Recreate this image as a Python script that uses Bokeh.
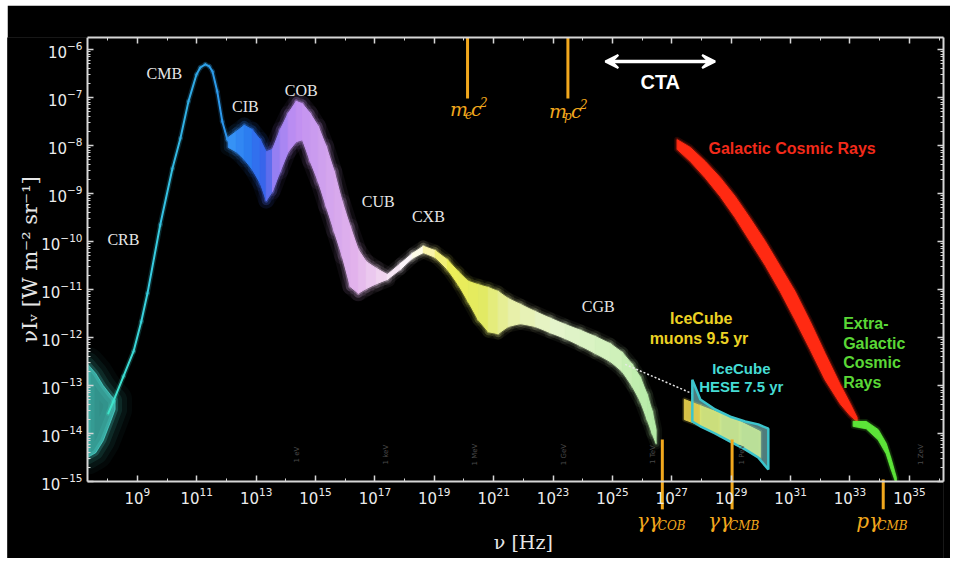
import numpy as np
from bokeh.plotting import figure
from bokeh.layouts import row, column
from bokeh.models import Label, Arrow, VeeHead, FixedTicker, LogAxis, Spacer
from bokeh.embed import file_html
from bokeh.resources import INLINE

# ---------------- data: log10(nu / Hz), log10(nu I_nu / W m^-2 sr^-1) ----------------
CRB_NU = [7.32, 7.60, 7.85, 8.10, 8.25]
CRB_LO = [-14.50, -14.40, -14.15, -13.75, -13.50]
CRB_HI = [-12.55, -12.75, -13.00, -13.20, -13.30]

CMB_NU = [8.02, 8.19, 8.53, 8.87, 9.13, 9.34, 9.77, 10.18, 10.45, 10.72, 10.99, 11.12,
          11.29, 11.42, 11.53, 11.69, 11.86, 12.03, 12.20]
CMB_I = [-13.58, -13.33, -12.81, -12.29, -11.67, -11.08, -9.65, -8.48, -7.85, -7.08, -6.52,
         -6.375, -6.31, -6.35, -6.46, -6.875, -7.50, -7.875, -7.98]

# CIB -> COB -> CUB
MAIN_NU = [12.06, 12.33, 12.60, 12.87, 13.14, 13.34, 13.55, 13.81, 14.08, 14.35, 14.56,
           14.82, 15.09, 15.36, 15.63, 15.90, 16.17, 16.44, 16.71, 17.05, 17.42]
MAIN_HI = [-7.83, -7.71, -7.58, -7.67, -7.88, -8.13, -8.08, -7.67, -7.33, -7.08, -7.13,
           -7.33, -7.60, -8.02, -8.54, -9.17, -9.69, -10.17, -10.42, -10.56, -10.69]
MAIN_LO = [-8.04, -8.13, -8.29, -8.50, -8.79, -9.15, -8.96, -8.54, -8.13, -7.92, -7.88,
           -8.33, -8.75, -9.27, -9.79, -10.31, -10.94, -11.08, -10.98, -10.88, -10.79]

# CXB -> CGB
XG_NU = [17.42, 17.86, 18.26, 18.63, 19.03, 19.44, 19.81, 20.14, 20.48, 20.82, 21.15, 21.49,
         21.90, 22.40, 22.91, 23.41, 23.92, 24.42, 24.93, 25.33, 25.67, 25.94, 26.17, 26.34, 26.47]
XG_HI = [-10.69, -10.46, -10.25, -10.10, -10.19, -10.38, -10.63, -10.83, -10.90, -10.96, -11.04,
         -11.19, -11.31, -11.46, -11.60, -11.73, -11.85, -11.98, -12.13, -12.31, -12.56, -12.83,
         -13.19, -13.54, -13.92]
XG_LO = [-10.79, -10.58, -10.35, -10.23, -10.33, -10.58, -10.90, -11.25, -11.63, -11.88, -11.92,
         -11.77, -11.71, -11.77, -11.90, -12.02, -12.17, -12.33, -12.50, -12.71, -13.02, -13.33,
         -13.71, -14.00, -14.21]

# IceCube HESE 7.5 yr and muons 9.5 yr
HESE_NU = [27.69, 27.96, 28.46, 28.97, 29.47, 29.91, 30.25]
HESE_HI = [-12.88, -13.29, -13.50, -13.65, -13.75, -13.81, -13.90]
HESE_LO = [-13.75, -13.85, -14.00, -14.17, -14.33, -14.50, -14.75]
MU_NU = [27.42, 27.96, 28.63, 29.30, 29.98]
MU_HI = [-13.29, -13.42, -13.58, -13.75, -13.96]
MU_LO = [-13.71, -13.83, -14.04, -14.25, -14.50]

# Galactic / extra-galactic cosmic rays
GCR_NU = [27.18, 27.62, 28.12, 28.63, 29.13, 29.64, 30.15, 30.65, 31.15, 31.66, 32.16, 32.67, 33.01, 33.24]
GCR_HI = [-7.88, -8.04, -8.33, -8.67, -9.06, -9.52, -10.00, -10.52, -11.04, -11.67, -12.33, -12.98, -13.38, -13.67]
GCR_LO = [-8.08, -8.33, -8.67, -9.06, -9.50, -10.00, -10.50, -11.04, -11.63, -12.25, -12.88, -13.38, -13.63, -13.75]
EG_NU = [33.11, 33.55, 33.95, 34.22, 34.39, 34.56]
EG_HI = [-13.75, -13.75, -13.92, -14.21, -14.54, -14.92]
EG_LO = [-13.85, -13.90, -14.13, -14.42, -14.75, -15.05]

# markers
TOP_MARK_NU = [20.12, 23.50]          # m_e c^2, m_p c^2
TOP_MARK_I = [-5.75, -7.02]
BOT_MARK_NU = [26.68, 29.03, 34.12]   # gg_COB, gg_CMB, pg_CMB
BOT_MARK_TOP = [-14.125, -14.125, -14.96]
BOT_MARK_END = -15.58
CTA_NU = [24.76, 28.46]
CTA_I = -6.25
DASH_NU = [25.43, 27.69]
DASH_I = [-12.56, -13.17]
ENERGY_LABELS = ["1 eV", "1 keV", "1 MeV", "1 GeV", "1 TeV", "1 PeV", "1 ZeV"]
ENERGY_NU = [14.38, 17.38, 20.38, 23.38, 26.38, 29.38, 35.38]

X_TICKS = [10.0 ** k for k in range(9, 37, 2)]
Y_TICKS = [10.0 ** k for k in range(-15, -5)]

# ---------------- figure ----------------
AXIS_X = (7.32, 36.15)     # drawn x axis extent (log10)
AXIS_Y = (-15.0, -5.75)    # drawn y axis extent (log10)
W, H = 943, 553
BL, BR, BT, BB = 0, 7, 32, 0
PX_X = 29.69
PX_Y = 48.0
XL = (AXIS_X[0] - 80 / PX_X, AXIS_X[1])
YL = (AXIS_Y[0] - 77 / PX_Y, AXIS_Y[1])

p = figure(width=W, height=H, x_axis_type="log", y_axis_type="log",
           x_range=(10 ** XL[0], 10 ** XL[1]), y_range=(10 ** YL[0], 10 ** YL[1]),
           output_backend="svg", toolbar_location=None,
           background_fill_color="black", border_fill_color="black",
           min_border_left=BL, min_border_right=BR, min_border_top=BT, min_border_bottom=BB,
           outline_line_color=None)
p.grid.visible = False

AX = "#d6d6d6"


def minor_x():
    return [10.0 ** k for k in range(8, 37)]


def minor_y():
    return [m * 10.0 ** k for k in range(-15, -5) for m in range(2, 10)]


def style_axis(ax, labels=True):
    ax.axis_line_color = AX
    ax.axis_line_width = 2
    ax.major_tick_line_color = AX
    ax.minor_tick_line_color = AX
    ax.major_tick_in = 6
    ax.major_tick_out = 0
    ax.minor_tick_in = 3
    ax.minor_tick_out = 0
    ax.major_tick_line_width = 1.5
    if labels:
        ax.major_label_text_color = "#ececec"
        ax.major_label_text_font = "DejaVu Sans"
        ax.major_label_text_font_size = "15px"
        ax.major_label_standoff = 5
    else:
        ax.major_label_text_font_size = "1px"
        ax.major_label_text_alpha = 0.0
        ax.major_label_standoff = 0


XB = (10 ** AXIS_X[0], 10 ** AXIS_X[1])
YB = (10 ** AXIS_Y[0], 10 ** AXIS_Y[1])
p.xaxis.ticker = FixedTicker(ticks=X_TICKS, minor_ticks=minor_x())
p.yaxis.ticker = FixedTicker(ticks=Y_TICKS, minor_ticks=minor_y())
style_axis(p.xaxis[0])
style_axis(p.yaxis[0])
p.xaxis.fixed_location = YB[0]
p.yaxis.fixed_location = XB[0]
p.xaxis.bounds = XB
p.yaxis.bounds = YB
top = LogAxis(ticker=FixedTicker(ticks=X_TICKS, minor_ticks=minor_x()), bounds=XB)
right = LogAxis(ticker=FixedTicker(ticks=Y_TICKS, minor_ticks=minor_y()), bounds=YB)
style_axis(top, False)
style_axis(right, False)
p.add_layout(top, "above")
p.add_layout(right, "right")


# ---------------- helpers ----------------
def hex2rgb(h):
    h = h.lstrip("#")
    return [int(h[i:i + 2], 16) for i in (0, 2, 4)]


def grad(anchors, v):
    if v <= anchors[0][0]:
        return anchors[0][1]
    for (a, ca), (b, cb) in zip(anchors[:-1], anchors[1:]):
        if a <= v <= b:
            t = (v - a) / (b - a)
            r1, r2 = hex2rgb(ca), hex2rgb(cb)
            return "#%02x%02x%02x" % tuple(int(round(r1[i] + (r2[i] - r1[i]) * t)) for i in range(3))
    return anchors[-1][1]


def draw_band(nu, lo, hi, anchors, glow=((16, 0.06), (9, 0.12), (4, 0.25)), alpha=1.0):
    if len(anchors) == 1:
        # single colour: one smooth polygon
        px = [10 ** v for v in list(nu) + list(nu)[::-1]]
        py = [10 ** v for v in list(hi) + list(lo)[::-1]]
        c = anchors[0][1]
        for w, a in glow:
            p.patch(px, py, fill_alpha=0, line_color=c, line_width=w, line_alpha=a, line_join="round")
        p.patch(px, py, fill_color=c, fill_alpha=alpha, line_color=c, line_width=1, line_alpha=alpha,
                line_join="round")
        return
    xs, ys, cols = [], [], []
    for i in range(len(nu) - 1):
        xs.append([10 ** nu[i], 10 ** nu[i + 1], 10 ** nu[i + 1], 10 ** nu[i]])
        ys.append([10 ** hi[i], 10 ** hi[i + 1], 10 ** lo[i + 1], 10 ** lo[i]])
        cols.append(grad(anchors, 0.5 * (nu[i] + nu[i + 1])))
    for w, a in glow:
        p.patches(xs, ys, fill_alpha=0, line_color=cols, line_width=w, line_alpha=a, line_join="round")
    p.patches(xs, ys, fill_color=cols, fill_alpha=alpha, line_color=cols, line_width=1, line_alpha=alpha)


def lab(xlog, ylog, text, color, size, font="Liberation Sans", style="bold", align="center",
        baseline="middle", angle=0.0, dx=0.0, dy=0.0):
    p.add_layout(Label(x=10 ** (xlog + dx / PX_X), y=10 ** (ylog + dy / PX_Y), text=text,
                       text_color=color, text_font_size="%dpx" % size, text_font=font,
                       text_font_style=style, text_align=align, text_baseline=baseline, angle=angle))


def compose(xlog, ylog, parts, color, font="DejaVu Serif"):
    # parts: (text, size, width_px, dy_px)
    total = sum(pt[2] for pt in parts)
    x0 = -total / 2.0
    for text, size, wpx, dypx in parts:
        lab(xlog, ylog, text, color, size, font=font, style="italic", align="left", dx=x0, dy=dypx)
        x0 += wpx


# ---------------- spectrum ----------------
draw_band(CRB_NU, CRB_LO, CRB_HI, [(7.3, "#50e8dc")],
          glow=((34, 0.035), (24, 0.06), (14, 0.1), (6, 0.2)), alpha=0.6)

cmb_xs = [[10 ** CMB_NU[i], 10 ** CMB_NU[i + 1]] for i in range(len(CMB_NU) - 1)]
cmb_ys = [[10 ** CMB_I[i], 10 ** CMB_I[i + 1]] for i in range(len(CMB_I) - 1)]
cmb_anchor = [(8.0, "#3fe6c8"), (9.5, "#38cde0"), (11.0, "#2fa6e6"), (12.2, "#2a90ee")]
cmb_cols = [grad(cmb_anchor, 0.5 * (CMB_NU[i] + CMB_NU[i + 1])) for i in range(len(CMB_NU) - 1)]
p.multi_line(cmb_xs, cmb_ys, line_color=cmb_cols, line_width=5, line_alpha=0.2, line_cap="round")
p.multi_line(cmb_xs, cmb_ys, line_color=cmb_cols, line_width=2, line_cap="round")

draw_band(MAIN_NU, MAIN_LO, MAIN_HI,
          [(12.0, "#3a9af6"), (12.8, "#2b7af0"), (13.3, "#3a62ea"), (13.7, "#9a80f2"),
           (14.3, "#bf8ef2"), (15.3, "#d0a2ee"), (16.3, "#e2b2ec"), (17.2, "#f0d4f0")])
draw_band(XG_NU, XG_LO, XG_HI,
          [(17.4, "#f2dcf0"), (18.3, "#ffffff"), (18.9, "#f8f2a0"), (19.5, "#eeee58"),
           (20.6, "#e2ea60"), (21.6, "#e8f0a8"), (23.0, "#e6f4cc"), (25.0, "#d2f2bc"), (26.5, "#b2eaa4")],
          glow=((12, 0.06), (7, 0.12), (3, 0.25)))

# dotted connector to IceCube
p.line([10 ** v for v in DASH_NU], [10 ** v for v in DASH_I], line_color="#e8e8e8",
       line_width=1.5, line_dash="2 2")

# IceCube
hx = [10 ** v for v in HESE_NU + HESE_NU[::-1]]
hy = [10 ** v for v in HESE_HI + HESE_LO[::-1]]
p.patch(hx, hy, fill_color="#8fe2e2", fill_alpha=0.55, line_alpha=0)
draw_band(MU_NU, MU_LO, MU_HI, [(27.4, "#f2b426"), (27.9, "#dfe46a"), (28.6, "#cfe88a"), (30.0, "#bfe6a0")],
          glow=((4, 0.2),), alpha=0.92)
p.patch(hx, hy, fill_alpha=0, line_color="#3cc4cc", line_width=2.5)

# cosmic rays
draw_band(GCR_NU, GCR_LO, GCR_HI, [(27.0, "#ff2a12")], glow=((6, 0.15), (3, 0.3)))
draw_band(EG_NU, EG_LO, EG_HI, [(33.0, "#5ce438")], glow=((5, 0.15), (2, 0.3)))

# mask: keep the curves inside the axes box (outside area stays black)
p.quad(left=10 ** XL[0], right=XB[0], bottom=10 ** YL[0], top=10 ** YL[1], color="black")
p.quad(left=XB[0], right=10 ** XL[1], bottom=10 ** YL[0], top=YB[0], color="black")

# ---------------- markers ----------------
OR = "#f2a81d"
p.segment(x0=[10 ** v for v in TOP_MARK_NU], y0=[10 ** TOP_MARK_I[0]] * len(TOP_MARK_NU),
          x1=[10 ** v for v in TOP_MARK_NU], y1=[10 ** TOP_MARK_I[1]] * len(TOP_MARK_NU),
          line_color=OR, line_width=3)
p.segment(x0=[10 ** v for v in BOT_MARK_NU], y0=[10 ** v for v in BOT_MARK_TOP],
          x1=[10 ** v for v in BOT_MARK_NU], y1=[10 ** BOT_MARK_END] * len(BOT_MARK_NU),
          line_color=OR, line_width=3)

p.add_layout(Arrow(start=VeeHead(size=13, fill_color="white", line_color="white", line_width=2),
                   end=VeeHead(size=13, fill_color="white", line_color="white", line_width=2),
                   x_start=10 ** CTA_NU[0], y_start=10 ** CTA_I, x_end=10 ** CTA_NU[1], y_end=10 ** CTA_I,
                   line_color="white", line_width=3.5))

# ---------------- texts ----------------
lab(10.72, -5.375, "Thermal", "#3c9cf0", 16)
lab(14.42, -5.375, "Nuclear Fusion", "#f030d8", 16)
lab(26.58, -5.375, "Acceleration,  decay", "#e6ee2a", 16)
lab(26.61, -6.67, "CTA", "white", 20)

SER = "#e6e6e6"
for xl, yl, t in [(9.91, -6.50, "CMB"), (12.64, -7.19, "CIB"), (14.52, -6.85, "COB"),
                  (8.53, -9.96, "CRB"), (17.11, -9.17, "CUB"), (18.80, -9.48, "CXB"),
                  (24.52, -11.35, "CGB")]:
    lab(xl, yl, t, SER, 16, font="Liberation Serif", style="normal")

lab(31.05, -8.06, "Galactic Cosmic Rays", "#f22a1a", 16)
lab(27.99, -11.60, "IceCube", "#ecd224", 16)
lab(27.99, -12.02, "muons  9.5 yr", "#ecd224", 16)
lab(29.34, -12.65, "IceCube", "#46dcd4", 15)
lab(29.34, -13.02, "HESE 7.5 yr", "#46dcd4", 15)
for i, t in enumerate(["Extra-", "Galactic", "Cosmic", "Rays"]):
    lab(32.77, -11.71 - 0.41 * i, t, "#5ad836", 16, align="left")

for t, nu in zip(ENERGY_LABELS, ENERGY_NU):
    lab(nu, -14.44, t, "#4a4a4a", 7, font="DejaVu Sans", style="normal", angle=np.pi / 2)

# math labels
compose(20.15, -7.23, [("m", 19, 15, 0), ("e", 12, 6, -5), ("c", 19, 9, 0), ("2", 12, 7, 7)], OR)
compose(23.50, -7.29, [("m", 19, 15, 0), ("p", 12, 7, -5), ("c", 19, 9, 0), ("2", 12, 7, 7)], OR)
compose(26.63, -15.83, [("γγ", 20, 21, 0), ("COB", 12, 27, -5)], OR)
compose(29.03, -15.83, [("γγ", 20, 21, 0), ("CMB", 12, 27, -5)], OR)
compose(34.02, -15.83, [("pγ", 20, 21, 0), ("CMB", 12, 27, -5)], OR)

# axis titles
lab(5.40, -10.375, "νIᵥ [W m⁻² sr⁻¹]", "#e6e6e6", 21, font="DejaVu Serif", style="normal", angle=np.pi / 2)
lab(22.0, -16.27, "ν [Hz]", "#e6e6e6", 19, font="DejaVu Serif", style="normal")

layout = column(Spacer(height=5), row(Spacer(width=7), p))
open("out.html", "w").write(file_html(layout, INLINE))
